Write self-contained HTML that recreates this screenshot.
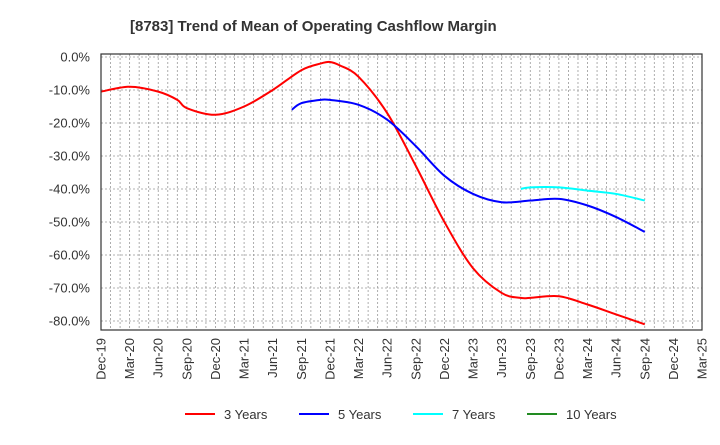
<!DOCTYPE html>
<html><head><meta charset="utf-8"><style>
body{margin:0;background:#fff;font-family:"Liberation Sans",sans-serif}
svg text{font-family:"Liberation Sans",sans-serif}
</style></head><body>
<svg id="c" width="720" height="440" xmlns="http://www.w3.org/2000/svg">
<text x="130" y="31" font-size="15" font-weight="bold" fill="#333">[8783]  Trend of Mean of Operating Cashflow Margin</text>
<g id="grid"></g>
<g id="ylab"></g>
<g id="xlab"></g>
<g id="series"></g>
<rect x="101" y="54" width="601" height="276" fill="none" stroke="#333" stroke-width="1.2"/>
<g id="legend"></g>
</svg>
<script>
const xTickLabels=["Dec-19","Mar-20","Jun-20","Sep-20","Dec-20","Mar-21","Jun-21","Sep-21","Dec-21","Mar-22","Jun-22","Sep-22","Dec-22","Mar-23","Jun-23","Sep-23","Dec-23","Mar-24","Jun-24","Sep-24","Dec-24","Mar-25"];
const yTicks=[0,-10,-20,-30,-40,-50,-60,-70,-80];
// month index from Dec-19 = 0
const m3=[0,3,6,8,9,12,15,18,21,23,24,25,27,30,33,36,39,42,44,45,48,51,54,57];
const v3=[-10.5,-9,-10.5,-13,-15.5,-17.5,-15,-10,-4,-2,-1.5,-2.5,-6,-17,-33,-50,-64,-71.5,-73,-73,-72.5,-75,-78,-81];
const m5=[20,21,23,24,27,30,33,36,39,42,45,48,51,54,57];
const v5=[-16,-14,-13,-13,-14.5,-19,-27,-36,-41.5,-44,-43.5,-43,-45,-48.5,-53];
const m7=[44,45,48,51,54,57];
const v7=[-40,-39.5,-39.5,-40.5,-41.5,-43.5];
const m10=[];const v10=[];
const seriesNames=["3 Years","5 Years","7 Years","10 Years"];
const colors=["#ff0000","#0000ff","#00ffff","#228b22"];
const L=101,R=702,T=54,B=330;
const X=m=>L+(R-L)*m/63;
const Y=v=>57+(v/-10)*33;
const NS="http://www.w3.org/2000/svg";
function mk(t,a,p){const e=document.createElementNS(NS,t);for(const k in a)e.setAttribute(k,a[k]);p.appendChild(e);return e;}
const grid=document.getElementById('grid');
for(let m=1;m<63;m++){const l=mk('line',{x1:X(m),x2:X(m),y1:T,y2:B,stroke:'#999','stroke-width':0.8,'stroke-dasharray':'2,2'},grid);

}
yTicks.forEach(v=>{const l=mk('line',{x1:L,x2:R,y1:Y(v),y2:Y(v),stroke:'#999','stroke-width':0.8,'stroke-dasharray':'2,2'},grid);


const t=mk('text',{x:90,y:Y(v)+4.5,'text-anchor':'end','font-size':13,fill:'#333'},document.getElementById('ylab'));
t.textContent=v.toFixed(1)+'%';

});
xTickLabels.forEach((s,i)=>{const x=X(i*3)+4.5;const t=mk('text',{x:x,y:338,'text-anchor':'end','font-size':13,fill:'#333',transform:`rotate(-90 ${x} 338)`},document.getElementById('xlab'));
t.textContent=s;

});
function path(ms,vs){if(ms.length<2)return '';const p=ms.map((m,i)=>[X(m),Y(vs[i])]);let d=`M${p[0][0]},${p[0][1]}`;
for(let i=0;i<p.length-1;i++){const p0=p[i-1]||p[i],p1=p[i],p2=p[i+1],p3=p[i+2]||p2;
d+=` C${p1[0]+(p2[0]-p0[0])/6},${p1[1]+(p2[1]-p0[1])/6} ${p2[0]-(p3[0]-p1[0])/6},${p2[1]-(p3[1]-p1[1])/6} ${p2[0]},${p2[1]}`;}return d;}
const S=document.getElementById('series');
[[m3,v3],[m5,v5],[m7,v7],[m10,v10]].forEach((s,i)=>{if(s[0].length<2)return;
const p=mk('path',{d:path(s[0],s[1]),fill:'none',stroke:colors[i],'stroke-width':2},S);

});
const lg=document.getElementById('legend');const lx=[185,299,413,527];
seriesNames.forEach((n,i)=>{const g=mk('g',{},lg);


mk('line',{x1:lx[i],x2:lx[i]+30,y1:414,y2:414,stroke:colors[i],'stroke-width':2},g);
const t=mk('text',{x:lx[i]+39,y:419,'font-size':13,fill:'#333'},g);t.textContent=n;});
</script>
</body></html>
